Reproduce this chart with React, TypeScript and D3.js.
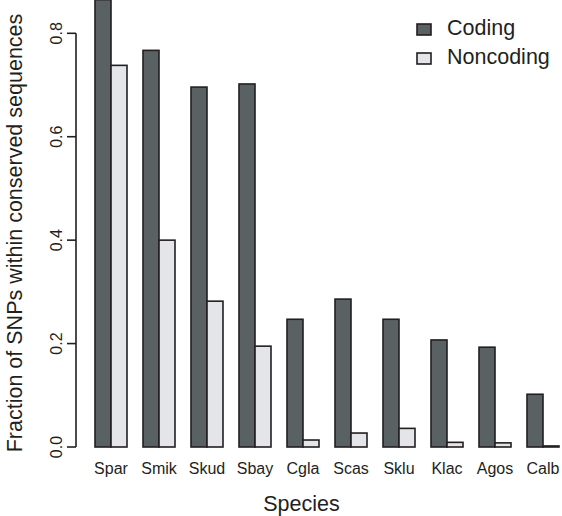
import React from "react";
import * as d3 from "d3";

const species = ["Spar", "Smik", "Skud", "Sbay", "Cgla", "Scas", "Sklu", "Klac", "Agos", "Calb"];
const coding = [0.865, 0.767, 0.696, 0.702, 0.247, 0.286, 0.247, 0.207, 0.193, 0.102];
const noncoding = [0.738, 0.4, 0.282, 0.195, 0.0135, 0.027, 0.036, 0.009, 0.008, 0.002];
const seriesNames = ["Coding", "Noncoding"];
const seriesColors = ["#5a6163", "#e3e5e9"];
const yTicks = [0, 0.2, 0.4, 0.6, 0.8];

const W = 562;
const H = 516;
const FONT = "'Liberation Sans', Arial, Helvetica, sans-serif";

export default function App() {
  const x0 = d3.scaleBand<string>().domain(species).range([95, 559]).paddingInner(1 / 3).paddingOuter(0);
  const x1 = d3.scaleBand<string>().domain(seriesNames).range([0, x0.bandwidth()]);
  const y = d3.scaleLinear().domain([0, 0.8]).range([447, 33.3]);
  const values = [coding, noncoding];

  return (
    <svg
      width={W}
      height={H}
      style={{ position: "absolute", left: 0, top: 0, background: "#fff" }}
      fontFamily={FONT}
    >
      {/* bars */}
      {species.map((s, i) => (
        <g key={s} transform={`translate(${x0(s)},0)`}>
          {seriesNames.map((n, j) => {
            const v = values[j][i];
            return (
              <rect
                key={n}
                x={x1(n)}
                y={y(v)}
                width={x1.bandwidth()}
                height={y(0) - y(v)}
                fill={seriesColors[j]}
                stroke="#231f20"
                strokeWidth={1.6}
              />
            );
          })}
          <text
            x={x0.bandwidth() / 2}
            y={474}
            textAnchor="middle"
            fontSize={16}
            fill="#231f20"
          >
            {s}
          </text>
        </g>
      ))}

      {/* y axis */}
      <line x1={76} x2={76} y1={y(0.8)} y2={y(0)} stroke="#231f20" strokeWidth={1.6} />
      {yTicks.map((t) => (
        <g key={t}>
          <line x1={67} x2={76} y1={y(t)} y2={y(t)} stroke="#231f20" strokeWidth={1.6} />
          <text
            transform={`translate(61.5,${y(t)}) rotate(-90)`}
            textAnchor="middle"
            fontSize={16}
            fill="#231f20"
          >
            {t.toFixed(1)}
          </text>
        </g>
      ))}

      {/* axis titles */}
      <text
        transform={`translate(22,233) rotate(-90)`}
        textAnchor="middle"
        fontSize={21.5}
        fill="#231f20"
      >
        Fraction of SNPs within conserved sequences
      </text>
      <text x={301.5} y={511} textAnchor="middle" fontSize={21.5} fill="#231f20">
        Species
      </text>

      {/* legend */}
      {seriesNames.map((n, j) => (
        <g key={n} transform={`translate(417,${24 + j * 29})`}>
          <rect x={0} y={0} width={14} height={11} fill={seriesColors[j]} stroke="#231f20" strokeWidth={1.6} />
          <text x={30} y={11} fontSize={21.5} fill="#231f20">
            {n}
          </text>
        </g>
      ))}
    </svg>
  );
}
